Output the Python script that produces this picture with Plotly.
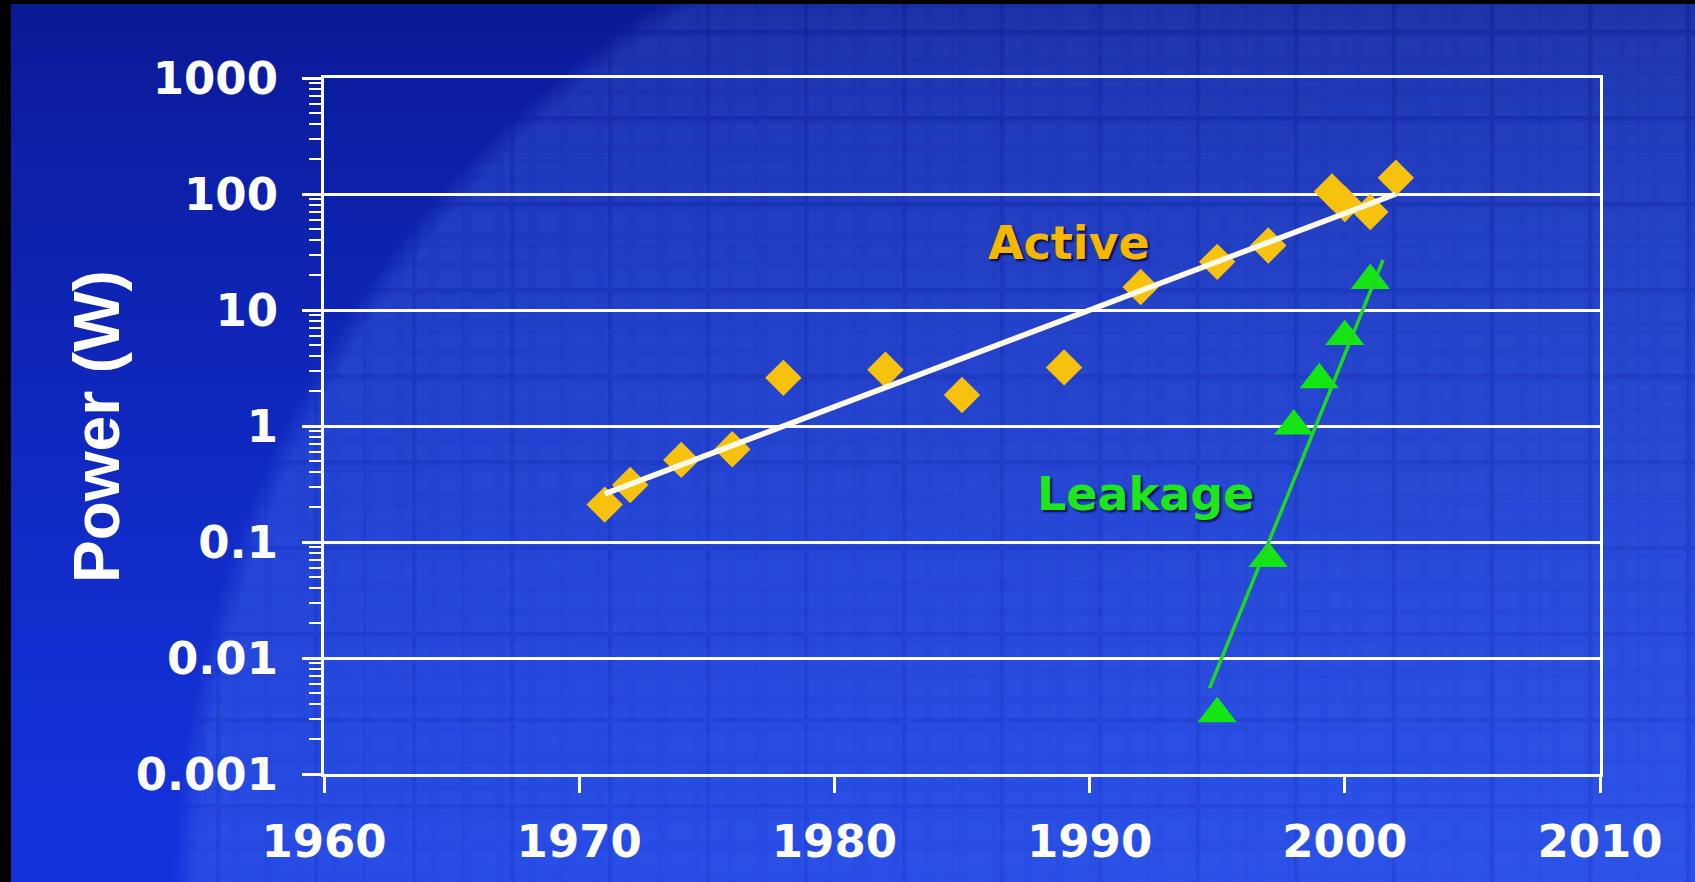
import base64
import struct
import zlib

import numpy as np
import plotly.graph_objects as go

# ---------------------------------------------------------------------------
# Data: microprocessor power (W) by year
# ---------------------------------------------------------------------------
active_years = [1971, 1972, 1974, 1976, 1978, 1982, 1985, 1989, 1992, 1995, 1997,
                1999.5, 2000, 2001, 2002]
active_power = [0.21, 0.31, 0.51, 0.63, 2.6, 3.05, 1.85, 3.2, 15.8, 26, 36,
                105, 82, 70, 138]

leakage_years = [1995, 1997, 1998, 1999, 2000, 2001]
leakage_power = [0.0033, 0.072, 1.0, 2.5, 5.9, 18]

# Exponential trend lines (end points)
active_trend_years = [1971, 2002]
active_trend_power = [0.26, 100]
leakage_trend_years = [1994.7, 2001.5]
leakage_trend_power = [0.0055, 27]

x_ticks = [1960, 1970, 1980, 1990, 2000, 2010]
y_ticks = [0.001, 0.01, 0.1, 1, 10, 100, 1000]
y_tick_text = ["0.001", "0.01", "0.1", "1", "10", "100", "1000"]
y_minor = [k * 10.0 ** e for e in range(-3, 3) for k in range(2, 10)]

# ---------------------------------------------------------------------------
# Canvas geometry
# ---------------------------------------------------------------------------
W, H = 1695, 882
ML, MR, MT, MB = 324, 95, 78, 108
PW, PH = W - ML - MR, H - MT - MB


def slide_background(w, h):
    """Blue slide backdrop: dark corner, lighter wafer disc with a die grid."""
    yy, xx = np.mgrid[0:h, 0:w].astype(float)
    t = yy / h
    outer_top = np.array([10, 24, 146], float)
    outer_bot = np.array([20, 52, 222], float)
    inner_top = np.array([22, 40, 158], float)
    inner_bot = np.array([38, 74, 228], float)
    tt = (t ** 0.75)[..., None]
    outer = outer_top + (outer_bot - outer_top) * tt
    inner = inner_top + (inner_bot - inner_top) * (t ** 0.55)[..., None]
    # subtle rightward brightening inside the disc
    inner = inner + (xx / w)[..., None] * np.array([6, 8, 4], float)

    # die grid texture (faint)
    px, py = 98.0, 86.0
    gx = np.mod(xx - 20, px)
    gy = np.mod(yy - 30, py)
    lines = ((gx < 5) | (gy < 5)).astype(float)
    sub = ((np.mod(gx, px / 2) < 3) | (np.mod(gy, py / 2) < 3)).astype(float)
    patch = ((np.mod(xx, 33) > 8) & (np.mod(yy, 29) > 7)).astype(float)
    inner = inner - lines[..., None] * np.array([4, 6, 7], float)
    inner = inner - sub[..., None] * np.array([2, 3, 3], float)
    inner = inner + patch[..., None] * np.array([2, 3, 2], float)

    # wafer disc edge
    cx, cy, r = 1250.0, 900.0, 1065.0
    d = np.sqrt((xx - cx) ** 2 + (yy - cy) ** 2)
    a = np.clip((r - d) / 25.0 + 0.5, 0, 1)[..., None]
    img = outer * (1 - a) + inner * a

    # black slide frame at left and top
    img[:, :11] = 0
    img[:4, :] = 0
    return np.clip(img, 0, 255).astype(np.uint8)


def png_data_uri(arr):
    h, w, _ = arr.shape
    raw = b"".join(b"\x00" + arr[i].tobytes() for i in range(h))

    def chunk(tag, data):
        c = struct.pack(">I", len(data)) + tag + data
        return c + struct.pack(">I", zlib.crc32(tag + data) & 0xFFFFFFFF)

    png = (b"\x89PNG\r\n\x1a\n"
           + chunk(b"IHDR", struct.pack(">IIBBBBB", w, h, 8, 2, 0, 0, 0))
           + chunk(b"IDAT", zlib.compress(raw, 9))
           + chunk(b"IEND", b""))
    return "data:image/png;base64," + base64.b64encode(png).decode()


bg_uri = png_data_uri(slide_background(W, H))

# ---------------------------------------------------------------------------
# Figure
# ---------------------------------------------------------------------------
GOLD = "#F7C20E"
GOLD_TEXT = "#F5B800"
GREEN = "#14E614"
TICK_FONT = dict(family="DejaVu Sans", size=45, color="white", weight="bold")

fig = go.Figure()

fig.add_trace(go.Scatter(
    x=active_years, y=active_power, mode="markers",
    marker=dict(symbol="diamond", size=28, color=GOLD, line=dict(width=0)),
    name="Active", hoverinfo="x+y",
))
fig.add_trace(go.Scatter(
    x=leakage_years, y=leakage_power, mode="markers",
    marker=dict(symbol="triangle-up", size=34, color=GREEN, line=dict(width=0)),
    name="Leakage", hoverinfo="x+y",
))
fig.add_trace(go.Scatter(
    x=active_trend_years, y=active_trend_power, mode="lines",
    line=dict(color="#FFFBEA", width=5.5), hoverinfo="skip", name="Active trend",
))
fig.add_trace(go.Scatter(
    x=leakage_trend_years, y=leakage_trend_power, mode="lines",
    line=dict(color="#1FD81F", width=3.5), hoverinfo="skip", name="Leakage trend",
))

label_shadow = "2px 2px 2px rgba(0,0,50,0.85)"
fig.add_annotation(
    x=1989.2, y=np.log10(38), xref="x", yref="y", text="Active",
    showarrow=False, xanchor="center", yanchor="middle",
    font=dict(family="DejaVu Sans", size=46, color=GOLD_TEXT, weight="bold",
              shadow=label_shadow),
)
fig.add_annotation(
    x=1992.2, y=np.log10(0.26), xref="x", yref="y", text="Leakage",
    showarrow=False, xanchor="center", yanchor="middle",
    font=dict(family="DejaVu Sans", size=46, color="#1EE61E", weight="bold",
              shadow=label_shadow),
)

# Y-axis title, rotated, placed left of the tick labels
fig.add_annotation(
    x=-(ML - 97) / PW, y=0.5, xref="paper", yref="paper", text="Power (W)",
    textangle=-90, showarrow=False, xanchor="center", yanchor="middle",
    font=dict(family="Liberation Sans", size=64, color="white", weight="bold"),
)

fig.update_layout(
    width=W, height=H,
    margin=dict(l=ML, r=MR, t=MT, b=MB, autoexpand=False),
    paper_bgcolor="#0b1c9c",
    plot_bgcolor="rgba(0,0,0,0)",
    showlegend=False,
    images=[dict(
        source=bg_uri, xref="paper", yref="paper",
        x=-ML / PW, y=1 + MT / PH, sizex=W / PW, sizey=H / PH,
        xanchor="left", yanchor="top", sizing="stretch", layer="below",
    )],
    xaxis=dict(
        range=[1960, 2010], tickmode="array", tickvals=x_ticks,
        ticks="outside", ticklen=16, tickwidth=3, tickcolor="white",
        showline=True, linewidth=3, linecolor="white", mirror=True,
        showgrid=False, zeroline=False,
        tickfont=TICK_FONT, ticklabelstandoff=10,
    ),
    yaxis=dict(
        type="log", range=[-3, 3], tickmode="array",
        tickvals=y_ticks, ticktext=y_tick_text,
        ticks="outside", ticklen=19, tickwidth=3, tickcolor="white",
        minor=dict(tickmode="array", tickvals=y_minor, ticks="outside",
                   ticklen=12, tickwidth=2, tickcolor="white", showgrid=False),
        showline=True, linewidth=3, linecolor="white", mirror=True,
        showgrid=True, gridcolor="white", gridwidth=3, zeroline=False,
        tickfont=TICK_FONT, ticklabelstandoff=15,
    ),
)

fig.write_html("out.html")
